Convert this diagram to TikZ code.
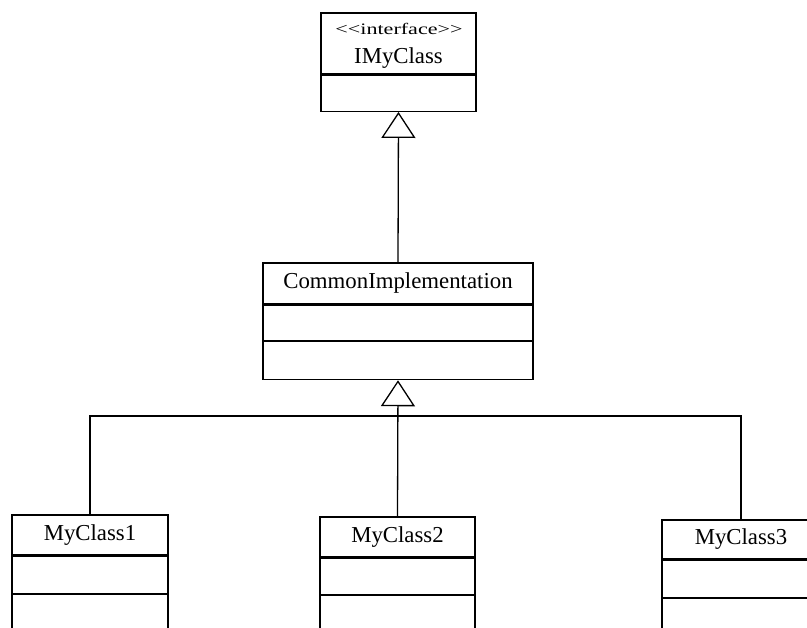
\documentclass[tikz,border=0pt]{standalone}
\usepackage{fontspec}
\setmainfont{Liberation Serif}
\usetikzlibrary{arrows.meta}

\tikzset{
  line/.style={line width=1.3pt, draw=black},
  namefont/.style={font=\fontsize{22.8}{27}\selectfont},
  namebox/.style={line, draw, fill=white, inner sep=0pt, namefont},
  compbox/.style={line, draw, fill=white, inner sep=0pt, anchor=north},
  stereo/.style={font=\fontsize{16}{19}\selectfont, inner sep=0pt, xscale=1.38, transform shape},
  inherits/.style={line, -{Triangle[open, width=34pt, length=26pt]}},
}

\begin{document}
\begin{tikzpicture}[x=1pt, y=-1pt]
  \clip (0,0) rectangle (807,628);
  \fill[white] (0,0) rectangle (807,628);

  % interface
  \node[namebox, minimum width=155pt, minimum height=61pt] (iface) at (398.5,43.5) {};
  \node[stereo] (ifacest) at (399,29) {<\kern0pt<interface>\kern0pt>};
  \node[inner sep=0pt, namefont] (ifacename) at (398.5,58) {IMyClass};
  \node[compbox, minimum width=155pt, minimum height=36pt] (iface1) at (iface.south) {};

  % common implementation
  \node[namebox, minimum width=270pt, minimum height=41pt] (common) at (398,283.5) {CommonImplementation};
  \node[compbox, minimum width=270pt, minimum height=35pt] (common1) at (common.south) {};
  \node[compbox, minimum width=270pt, minimum height=38pt] (common2) at (common1.south) {};

  % concrete classes
  \node[namebox, minimum width=156pt, minimum height=40pt] (mc1) at (90,535) {MyClass1};
  \node[compbox, minimum width=156pt, minimum height=37pt] (mc1a) at (mc1.south) {};
  \node[compbox, minimum width=156pt, minimum height=35pt] (mc1b) at (mc1a.south) {};

  \node[namebox, minimum width=155pt, minimum height=40pt] (mc2) at (397.5,537) {MyClass2};
  \node[compbox, minimum width=155pt, minimum height=36pt] (mc2a) at (mc2.south) {};
  \node[compbox, minimum width=155pt, minimum height=36pt] (mc2b) at (mc2a.south) {};

  \node[namebox, minimum width=158pt, minimum height=39pt] (mc3) at (741,539.5) {MyClass3};
  \node[compbox, minimum width=158pt, minimum height=37pt] (mc3a) at (mc3.south) {};
  \node[compbox, minimum width=158pt, minimum height=36pt] (mc3b) at (mc3a.south) {};

  % generalisation connectors
  \draw[inherits] (common.north) -- (iface1.south);
  \coordinate (bus) at (397.5,416);
  \draw[inherits] (mc2.north) -- (common2.south);
  \draw[line] (mc1.north) |- (bus) -| (mc3.north);
\end{tikzpicture}
\end{document}
